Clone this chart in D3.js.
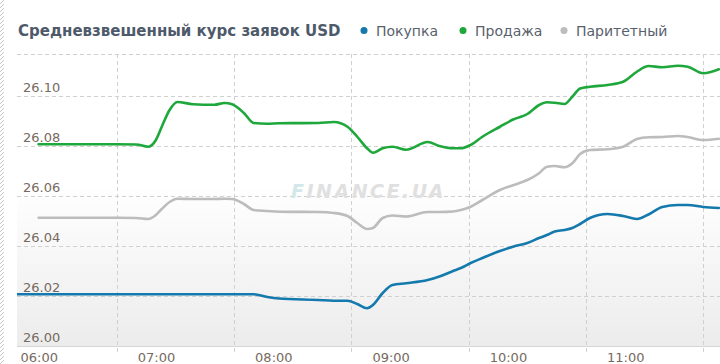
<!DOCTYPE html>
<html>
<head>
<meta charset="utf-8">
<script src="https://cdn.jsdelivr.net/npm/d3@7"></script>
<style>
  body { margin: 0; background: #fff; }
  svg { display: block; }
</style>
</head>
<body>
<div id="chart"></div>
<script>
// data
const times = ['06:09', '06:20', '07:00', '07:10', '07:16', '07:20', '07:23', '07:27', '07:31', '07:39',
  '07:50', '07:55', '07:59', '08:05', '08:10', '08:17', '08:23', '08:43', '08:51', '08:58',
  '09:03', '09:08', '09:11', '09:16', '09:21', '09:28', '09:39', '09:45', '09:52', '09:56',
  '10:01', '10:07', '10:16', '10:23', '10:30', '10:36', '10:40', '10:44', '10:49', '10:53',
  '10:57', '11:02', '11:11', '11:19', '11:26', '11:32', '11:39', '11:47', '11:52', '12:00', '12:08'];

const buyValues = [26.0207, 26.0207, 26.0207, 26.0207, 26.0207, 26.0207, 26.0207, 26.0207, 26.0207, 26.0207,
  26.0207, 26.0207, 26.0207, 26.0207, 26.0207, 26.0196, 26.0190, 26.0184, 26.0181, 26.0181,
  26.0168, 26.0151, 26.0164, 26.0212, 26.0244, 26.0251, 26.0264, 26.0278, 26.0300, 26.0312,
  26.0332, 26.0352, 26.0380, 26.0398, 26.0412, 26.0432, 26.0444, 26.0458, 26.0464, 26.0472,
  26.0488, 26.0512, 26.0528, 26.0520, 26.0508, 26.0526, 26.0556, 26.0564, 26.0564, 26.0556, 26.0552];

const sellValues = [null, 26.0807, 26.0807, 26.0806, 26.0797, 26.0824, 26.0877, 26.0944, 26.0976, 26.0967,
  26.0965, 26.0972, 26.0967, 26.0932, 26.0892, 26.0889, 26.0891, 26.0892, 26.0896, 26.0877,
  26.0837, 26.0791, 26.0773, 26.0791, 26.0797, 26.0785, 26.0816, 26.0800, 26.0791, 26.0791,
  26.0804, 26.0837, 26.0877, 26.0907, 26.0928, 26.0964, 26.0975, 26.0973, 26.0968, 26.0997,
  26.1030, 26.1037, 26.1044, 26.1057, 26.1097, 26.1120, 26.1115, 26.1121, 26.1117, 26.1091, 26.1107];

const parityValues = [null, 26.0513, 26.0513, 26.0512, 26.0508, 26.0524, 26.0548, 26.0576, 26.0589, 26.0588,
  26.0588, 26.0589, 26.0588, 26.0568, 26.0544, 26.0540, 26.0537, 26.0536, 26.0532, 26.0520,
  26.0492, 26.0468, 26.0472, 26.0512, 26.0522, 26.0518, 26.0536, 26.0536, 26.0538, 26.0544,
  26.0557, 26.0584, 26.0624, 26.0644, 26.0664, 26.0691, 26.0717, 26.0720, 26.0715, 26.0731,
  26.0768, 26.0784, 26.0787, 26.0797, 26.0828, 26.0835, 26.0836, 26.0840, 26.0836, 26.0824, 26.0829];

const yTicks = [26.00, 26.02, 26.04, 26.06, 26.08, 26.10];
const xTicks = ['06:00', '07:00', '08:00', '09:00', '10:00', '11:00', '12:00'];
const xLabels = ['06:00', '07:00', '08:00', '09:00', '10:00', '11:00'];

const seriesNames = ['Покупка', 'Продажа', 'Паритетный'];
const seriesColors = ['#1479ad', '#1ea83c', '#bcbcbc'];
const titleText = 'Средневзвешенный курс заявок USD';

const width = 720, height = 364;
const plot = { left: 17, right: 720, top: 54, bottom: 346 };

const parseTime = d3.timeParse('%H:%M');

const svg = d3.select('#chart')
  .append('svg')
  .attr('width', width)
  .attr('height', height);

const x = d3.scaleTime()
  .domain([parseTime('06:00'), parseTime('12:00')])
  .range([-0.5, 703.3]);

const y = d3.scaleLinear()
  .domain([26.00, 26.10])
  .range([plot.bottom, 96]);

const defs = svg.append('defs');

// soft grey gradient at the bottom of the plot
const grad = defs.append('linearGradient')
  .attr('id', 'bgGrad')
  .attr('x1', 0).attr('y1', 0).attr('x2', 0).attr('y2', 1);
grad.append('stop').attr('offset', '0%').attr('stop-color', '#ffffff');
grad.append('stop').attr('offset', '45%').attr('stop-color', '#ffffff');
grad.append('stop').attr('offset', '100%').attr('stop-color', '#ececec');

// hatched strip on the left edge
const hatch = defs.append('pattern')
  .attr('id', 'hatch')
  .attr('patternUnits', 'userSpaceOnUse')
  .attr('width', 4).attr('height', 4);
hatch.append('path')
  .attr('d', 'M0,4 L4,0')
  .attr('stroke', '#c8c8c8')
  .attr('stroke-width', 1);

defs.append('clipPath')
  .attr('id', 'plotClip')
  .append('rect')
  .attr('x', plot.left).attr('y', plot.top)
  .attr('width', plot.right - plot.left)
  .attr('height', plot.bottom - plot.top);

svg.append('rect')
  .attr('x', plot.left).attr('y', plot.top)
  .attr('width', plot.right - plot.left)
  .attr('height', plot.bottom - plot.top)
  .attr('fill', 'url(#bgGrad)');

svg.append('rect')
  .attr('x', 0).attr('y', 0)
  .attr('width', 4).attr('height', height)
  .attr('fill', 'url(#hatch)');

// title
svg.append('text')
  .attr('x', 18)
  .attr('y', 36)
  .text(titleText)
  .style('font-family', 'DejaVu Sans, Verdana, sans-serif')
  .style('font-size', '15px')
  .style('font-weight', 'bold')
  .style('fill', '#4e5a69');

// legend
const legendDotX = [364, 463, 564];
seriesNames.forEach(function (name, i) {
  svg.append('circle')
    .attr('cx', legendDotX[i])
    .attr('cy', 30.5)
    .attr('r', 3.5)
    .attr('fill', seriesColors[i]);
  svg.append('text')
    .attr('x', legendDotX[i] + 12)
    .attr('y', 36)
    .text(name)
    .style('font-family', 'DejaVu Sans, Verdana, sans-serif')
    .style('font-size', '14px')
    .style('fill', '#59616d');
});

// top border
svg.append('line')
  .attr('x1', plot.left).attr('x2', plot.right)
  .attr('y1', plot.top + 0.5).attr('y2', plot.top + 0.5)
  .attr('stroke', '#d0d0d0')
  .attr('stroke-dasharray', '4,3');

// horizontal grid
svg.selectAll('.hgrid')
  .data(yTicks.slice(1))
  .join('line')
  .attr('class', 'hgrid')
  .attr('x1', plot.left).attr('x2', plot.right)
  .attr('y1', d => Math.round(y(d)) + 0.5)
  .attr('y2', d => Math.round(y(d)) + 0.5)
  .attr('stroke', '#d0d0d0')
  .attr('stroke-dasharray', '4,3');

// vertical grid (runs a little below the baseline)
svg.selectAll('.vgrid')
  .data(xTicks.slice(1))
  .join('line')
  .attr('class', 'vgrid')
  .attr('x1', d => Math.round(x(parseTime(d))) + 0.5)
  .attr('x2', d => Math.round(x(parseTime(d))) + 0.5)
  .attr('y1', plot.top).attr('y2', 353)
  .attr('stroke', '#d0d0d0')
  .attr('stroke-dasharray', '4,3');

// baseline
svg.append('line')
  .attr('x1', plot.left).attr('x2', plot.right)
  .attr('y1', plot.bottom + 0.5).attr('y2', plot.bottom + 0.5)
  .attr('stroke', '#d6d6d6');

// y labels sit above their grid lines
svg.selectAll('.ylab')
  .data(yTicks)
  .join('text')
  .attr('class', 'ylab')
  .attr('x', 23)
  .attr('y', d => y(d) - 4.5)
  .text(d => d.toFixed(2))
  .style('font-family', 'DejaVu Sans, Verdana, sans-serif')
  .style('font-size', '13px')
  .style('fill', '#766a60');

// x labels to the right of their grid lines
svg.selectAll('.xlab')
  .data(xLabels)
  .join('text')
  .attr('class', 'xlab')
  .attr('x', d => x(parseTime(d)) + 21)
  .attr('y', 362)
  .text(d => d)
  .style('font-family', 'DejaVu Sans, Verdana, sans-serif')
  .style('font-size', '13px')
  .style('fill', '#766a60');

// watermark
const wm = svg.append('text')
  .attr('x', 291)
  .attr('y', 198)
  .style('font-family', 'DejaVu Sans, Verdana, sans-serif')
  .style('font-size', '19px')
  .style('font-style', 'italic')
  .style('font-weight', 'bold')
  .style('letter-spacing', '2.5px');
wm.append('tspan').text('F').style('fill', '#d2e8e8');
wm.append('tspan').text('INANCE.UA').style('fill', '#e0e0e0');

// lines
const lineGen = d3.line()
  .defined(d => d.v != null)
  .x(d => x(d.t))
  .y(d => y(d.v))
  .curve(d3.curveMonotoneX);

const allSeries = [buyValues, sellValues, parityValues];
const lineGroup = svg.append('g').attr('clip-path', 'url(#plotClip)');

// draw grey first, then blue, green on top
[2, 0, 1].forEach(function (i) {
  const pts = times.map((t, j) => ({ t: parseTime(t), v: allSeries[i][j] }));
  lineGroup.append('path')
    .datum(pts)
    .attr('d', lineGen)
    .attr('fill', 'none')
    .attr('stroke', seriesColors[i])
    .attr('stroke-width', 2.6)
    .attr('stroke-linejoin', 'round')
    .attr('stroke-linecap', 'round');
});
</script>
</body>
</html>
